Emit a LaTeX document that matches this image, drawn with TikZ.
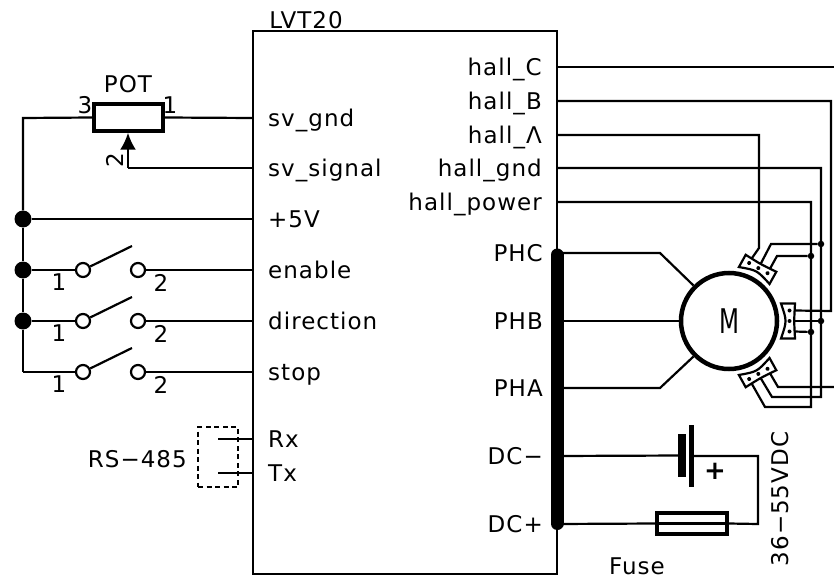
\documentclass[tikz,border=0pt]{standalone}
\usepackage{fontspec}
\setmainfont[LetterSpace=4.5]{DejaVu Sans}
\newfontfamily\motorfont[FakeStretch=0.68]{DejaVu Sans}
\usetikzlibrary{arrows.meta}
\begin{document}
\begin{tikzpicture}[
        x = 1pt, y = -1pt,
        every node/.style = {inner sep = 0mm},
        wire/.style = {draw, line width = 2.2pt},
        dot/.style = {circle, fill, minimum size = 17pt},
        jn/.style = {circle, fill, minimum size = 6.5pt},
        contact/.style = {draw, line width = 2.2pt, circle, fill = white, minimum size = 14pt},
        txt/.style = {font = \fontsize{23}{23}\selectfont, text height = 17pt, text depth = 0pt},
        pin/.style = {txt, anchor = west},
        rpin/.style = {txt, anchor = east},
        hall/.pic = {
            \draw[line width = 2.2pt, fill = white] (52, -17.5) .. controls (58, 0) .. (52, 17.5) -- (66, 17.5) .. controls (65, 0) .. (66, -17.5) -- cycle;
            \fill (60.5, -10.5) circle (2pt);
            \fill (60.5, 0) circle (2pt);
            \fill (60.5, 10.5) circle (2pt);
            \coordinate (-a) at (65.5, -10.5);
            \coordinate (-b) at (65.5, 0);
            \coordinate (-c) at (65.5, 10.5);
        },
    ]
    \useasboundingbox (0, 0) rectangle (834, 580);

    \node (U) at (405, 302.5) [draw, line width = 2.2pt, minimum width = 304pt, minimum height = 543pt] {};
    \node (UN) at (306, 20) [txt] {LVT20};

    \coordinate (BT) at (557, 255);
    \coordinate (BB) at (557, 523.5);
    \draw[line width = 13pt, line cap = round] (BT) -- (BB);

    \node (L1) at (268, 118) [pin] {sv\_gnd};
    \node (L2) at (268, 168) [pin] {sv\_signal};
    \node (L3) at (268, 219) [pin] {+5V};
    \node (L4) at (268, 270) [pin] {enable};
    \node (L5) at (268, 321) [pin] {direction};
    \node (L6) at (268, 372) [pin] {stop};
    \node (L7) at (268, 439) [pin] {Rx};
    \node (L8) at (268, 473) [pin] {Tx};

    \coordinate (E1) at (253, 118);
    \coordinate (E2) at (253, 168);
    \coordinate (E3) at (253, 219);
    \coordinate (E4) at (253, 270);
    \coordinate (E5) at (253, 321);
    \coordinate (E6) at (253, 372);
    \coordinate (E7) at (253, 439);
    \coordinate (E8) at (253, 473);

    \node (H1) at (542, 67) [rpin] {hall\_C};
    \node (H2) at (542, 101) [rpin] {hall\_B};
    \node (H3) at (542, 135) [rpin] {hall\_Λ};
    \node (H4) at (542, 168) [rpin] {hall\_gnd};
    \node (H5) at (542, 202) [rpin] {hall\_power};

    \node (P1) at (543, 253) [rpin] {PHC};
    \node (P2) at (543, 321) [rpin] {PHB};
    \node (P3) at (543, 388) [rpin] {PHA};
    \node (P4) at (543, 456) [rpin] {DC−};
    \node (P5) at (543, 524) [rpin] {DC+};

    \coordinate (O1) at (557, 67);
    \coordinate (O2) at (557, 101);
    \coordinate (O3) at (557, 135);
    \coordinate (O4) at (557, 168);
    \coordinate (O5) at (557, 202);
    \coordinate (O6) at (557, 253);
    \coordinate (O7) at (557, 321);
    \coordinate (O8) at (557, 388);
    \coordinate (O9) at (557, 456);
    \coordinate (O10) at (557, 524);

    % pot and left rail
    \node (R) at (128.5, 117.5) [draw, line width = 3.5pt, minimum width = 69pt, minimum height = 27pt] {};
    \node (RN) at (128, 84) [txt] {POT};
    \node (R3) at (85, 105) [txt] {3};
    \node (R1) at (170, 105) [txt] {1};
    \node (R2) at (115, 160) [txt, rotate = 90] {2};
    \coordinate (W) at (128, 168);
    \coordinate (T) at (23, 118);
    \coordinate (T2) at (23, 372);
    \node (D1) at (23, 219) [dot] {};
    \node (D2) at (23, 270) [dot] {};
    \node (D3) at (23, 321) [dot] {};

    \path[wire] (R.east) -- (E1);
    \path[wire] (R.west) -- (T) -- (D1);
    \path[wire] (D1) -- (D2);
    \path[wire] (D2) -- (D3);
    \path[wire] (D3) -- (T2);
    \path[wire] (D1) -- (E3);
    \path[wire] (E2) -- (W);
    \path[wire, -{Latex[length = 17pt, width = 16pt]}] (W) -- (R.south -| W);

    % switches
    \node (K1) at (83, 270) [contact] {};
    \node (K2) at (138, 270) [contact] {};
    \node (K3) at (83, 321) [contact] {};
    \node (K4) at (138, 321) [contact] {};
    \node (K5) at (83, 372) [contact] {};
    \node (K6) at (138, 372) [contact] {};
    \coordinate (A1) at (132, 246);
    \coordinate (A2) at (132, 297);
    \coordinate (A3) at (132, 348);

    \path[wire] (D2) -- (K1);
    \path[wire] (K2) -- (E4);
    \path[wire] (K1) -- (A1);
    \path[wire] (D3) -- (K3);
    \path[wire] (K4) -- (E5);
    \path[wire] (K3) -- (A2);
    \path[wire] (T2) -- (K5);
    \path[wire] (K6) -- (E6);
    \path[wire] (K5) -- (A3);

    \node (N1) at (59, 282) [txt] {1};
    \node (N2) at (161, 283) [txt] {2};
    \node (N3) at (59, 333) [txt] {1};
    \node (N4) at (161, 334) [txt] {2};
    \node (N5) at (59, 384) [txt] {1};
    \node (N6) at (161, 385) [txt] {2};

    % serial
    \node (S) at (218, 457) [draw, line width = 1.7pt, dash pattern = on 5pt off 3.5pt, minimum width = 40pt, minimum height = 60pt] {};
    \node (SN) at (187, 459) [rpin] {RS−485};
    \coordinate (S1) at (218, 439);
    \coordinate (S2) at (218, 473);
    \path[wire] (S1) -- (E7);
    \path[wire] (S2) -- (E8);

    % motor
    \node (M) at (729, 321) [draw, circle, line width = 4.5pt, minimum size = 96pt, font = \fontsize{34}{34}\motorfont] {M};
    \pic (HR) at (M.center) {hall};
    \pic (HT) at (M.center) [rotate = 61] {hall};
    \pic (HB) at (M.center) [rotate = -61] {hall};

    \coordinate (Q1) at (660, 253);
    \coordinate (Q3) at (660, 388);
    \path[wire] (O6) -- (Q1) -- (M.135);
    \path[wire] (O7) -- (M);
    \path[wire] (O8) -- (Q3) -- (M.225);

    % hall wiring
    \coordinate (C1) at (834, 67);
    \coordinate (C2) at (831, 101);
    \coordinate (C3) at (831, 311);
    \coordinate (C4) at (759, 135);
    \coordinate (C5) at (759, 248);
    \coordinate (C6) at (821, 168);
    \coordinate (C7) at (821, 397);
    \coordinate (C8) at (772, 397);
    \coordinate (C9) at (811, 202);
    \coordinate (C10) at (811, 407);
    \coordinate (C11) at (765, 407);
    \coordinate (C12) at (778, 387);
    \coordinate (C13) at (834, 387);
    \coordinate (C14) at (771, 244);
    \coordinate (C15) at (777, 256);
    \node (J1) at (821, 244) [jn] {};
    \node (J2) at (811, 256) [jn] {};
    \node (J3) at (821, 321) [jn] {};
    \node (J4) at (811, 332) [jn] {};

    \path[wire] (O1) -- (C1);
    \path[wire] (O2) -- (C2) -- (C3) -- (HR-a);
    \path[wire] (O3) -- (C4) -- (C5) -- (HT-a);
    \path[wire] (O4) -- (C6) -- (C7) -- (C8) -- (HB-b);
    \path[wire] (O5) -- (C9) -- (C10) -- (C11) -- (HB-c);
    \path[wire] (HB-a) -- (C12) -- (C13);
    \path[wire] (HT-b) -- (C14) -- (J1);
    \path[wire] (HT-c) -- (C15) -- (J2);
    \path[wire] (HR-b) -- (J3);
    \path[wire] (HR-c) -- (J4);

    % supply
    \node (B1) at (682, 455.5) [fill, minimum width = 8pt, minimum height = 43pt] {};
    \node (B2) at (691, 456) [fill, minimum width = 5pt, minimum height = 62pt] {};
    \node (BP) at (715, 471) [font = \fontsize{26}{26}\bfseries] {+};
    \node (F) at (692, 523.5) [draw, line width = 3.5pt, minimum width = 70pt, minimum height = 21pt] {};
    \node (FN) at (637, 566) [txt] {Fuse};
    \node (VN) at (780, 499) [txt, rotate = 90] {36−55VDC};
    \coordinate (Z) at (758, 456);
    \coordinate (Y) at (758, 524);

    \path[wire] (O9) -- (B1);
    \path[wire] (B2) -- (Z) -- (Y) -- (F.east);
    \path[wire] (O10) -- (F.west);
    \path[wire] (F.west) -- (F.east);
\end{tikzpicture}
\end{document}
